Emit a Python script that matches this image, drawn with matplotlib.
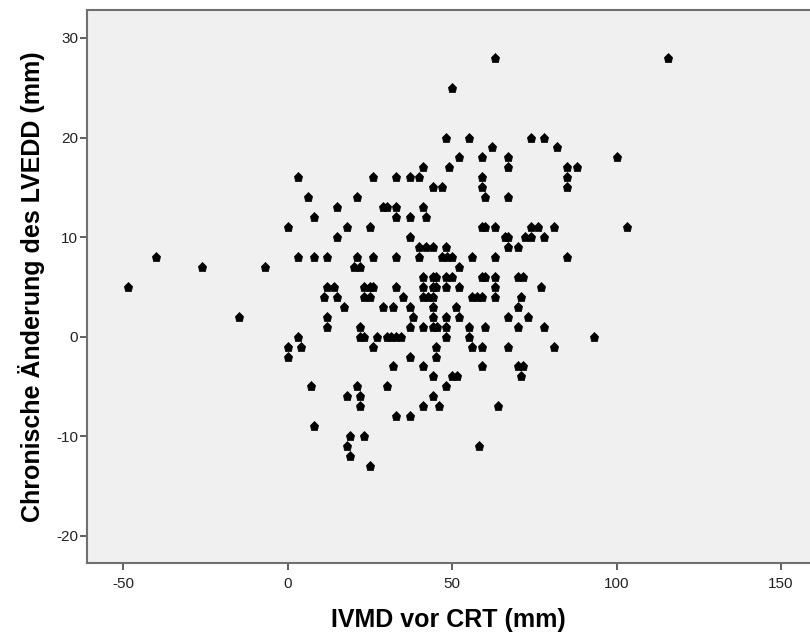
import matplotlib
matplotlib.use("Agg")
import matplotlib.pyplot as plt
import numpy as np

plt.rcParams["axes.unicode_minus"] = False

# IVMD vor CRT (x) and chronic change of LVEDD (y), grouped per y-row
rows = {
    28: [63, 115.5],
    25: [50],
    20: [48, 55, 74, 78],
    19: [62, 82],
    18: [52, 59, 67, 100],
    17: [41, 49, 67, 85, 88],
    16: [3, 26, 33, 37, 40, 59, 85],
    15: [44, 47, 59, 85],
    14: [6, 21, 60, 67],
    13: [15, 29, 30, 33, 41],
    12: [8, 33, 37, 42],
    11: [0, 18, 25, 59, 60, 63, 74, 76, 81, 103],
    10: [15, 37, 66, 67, 72, 74, 78],
    9: [40, 42, 44, 48, 67, 70],
    8: [-40, 3, 8, 12, 21, 26, 33, 40, 47, 48.5, 50, 56, 63, 85],
    7: [-26, -7, 20, 22, 52],
    6: [41, 44, 45, 48, 50, 59, 60, 63, 70, 71.5],
    5: [-48.5, 12, 14, 23, 25, 26, 33, 41, 44, 45, 48, 52, 63, 77],
    4: [11, 15, 23, 25, 35, 41, 42.5, 44, 56, 57.5, 59, 63, 71],
    3: [17, 29, 32, 37, 44, 51, 70],
    2: [-15, 12, 38, 44, 48, 52, 67, 73],
    1: [12, 22, 37, 41, 44, 45.5, 48, 55, 60, 70, 78],
    0: [3, 22, 23, 27, 30, 31.5, 33, 34.5, 48, 55, 93],
    -1: [0, 4, 26, 45, 56, 59, 67, 81],
    -2: [0, 37, 45],
    -3: [32, 41, 59, 70, 71.5],
    -4: [44, 50, 51.5, 71],
    -5: [7, 21, 30, 48],
    -6: [18, 22, 44],
    -7: [22, 41, 46, 64],
    -8: [33, 37],
    -9: [8],
    -10: [19, 23],
    -11: [18, 58],
    -12: [19],
    -13: [25],
}
ivmd = [x for yv, xs in rows.items() for x in xs]
lvedd = [yv for yv, xs in rows.items() for x in xs]

x_ticks = [-50, 0, 50, 100, 150]
y_ticks = [-20, -10, 0, 10, 20, 30]
x_label = "IVMD vor CRT (mm)"
y_label = "Chronische Änderung des LVEDD (mm)"

fig = plt.figure(figsize=(8.1, 6.36), dpi=100)
ax = fig.add_axes([0.1078, 0.1148, 0.8922, 0.8687])
ax.set_facecolor("#f0f0f0")
ax.plot(ivmd, lvedd, linestyle="none", marker="p", ms=6.8, color="black",
        markeredgecolor="black", markeredgewidth=0.5)

ax.set_xlim(-61, 158.8)
ax.set_ylim(-22.74, 32.76)
ax.set_xticks(x_ticks)
ax.set_yticks(y_ticks)

tick_font = ["Liberation Sans Narrow", "Liberation Sans", "DejaVu Sans"]
for lab in ax.get_xticklabels() + ax.get_yticklabels():
    lab.set_family(tick_font)
    lab.set_fontsize(11)
    lab.set_color("#222222")

ax.tick_params(direction="out", length=5, width=1.2, color="#444444")
ax.tick_params(axis="y", pad=1.5)
ax.tick_params(axis="x", pad=5)
for side in ["left", "bottom", "top"]:
    ax.spines[side].set_color("#707070")
    ax.spines[side].set_linewidth(1.5)
ax.spines["right"].set_visible(False)

ax.set_xlabel(x_label, fontsize=18, fontweight="bold",
              family=["Liberation Sans", "DejaVu Sans"], labelpad=12)
ax.set_ylabel(y_label, fontsize=18, fontweight="bold",
              family=["Liberation Sans", "DejaVu Sans"], labelpad=8)

fig.savefig("out.png", dpi=100)
